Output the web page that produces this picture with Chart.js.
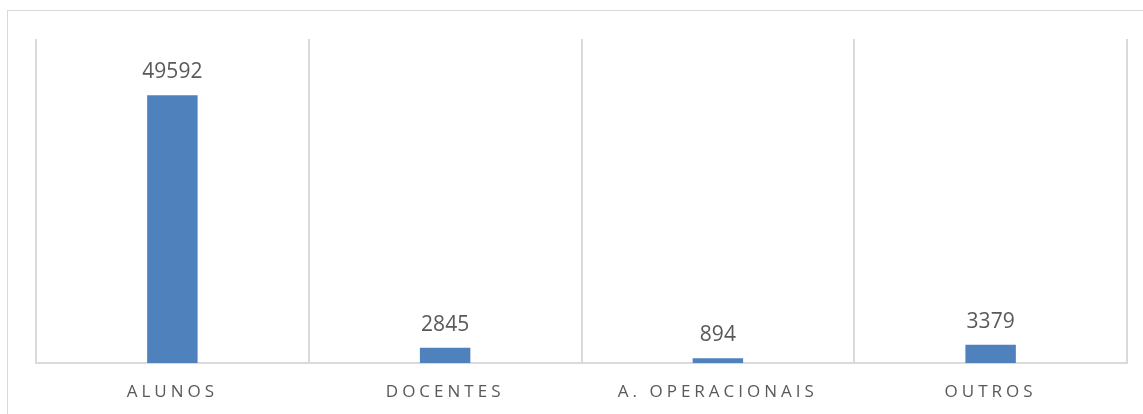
<!DOCTYPE html>
<html>
<head>
<meta charset="utf-8">
<script src="https://cdn.jsdelivr.net/npm/chart.js@4.4.1/dist/chart.umd.min.js"></script>
<style>
  html, body { margin: 0; padding: 0; background: #fff; overflow: hidden; }
  #frame { position: absolute; left: 7px; top: 10px; width: 1160px; height: 430px; border: 1px solid #d9d9d9; box-sizing: border-box; }
  #c { position: absolute; left: 0; top: 0; }
</style>
</head>
<body>
<div id="frame"></div>
<canvas id="c" width="1143" height="414"></canvas>
<script>
// Categories and headcounts
const categories = ['ALUNOS', 'DOCENTES', 'A. OPERACIONAIS', 'OUTROS'];
const counts = [49592, 2845, 894, 3379];
const axisMax = 60000;

const textGray = '#595959';
const gridGray = '#dadada';
const barBlue = '#4F81BD';

// Spaced-out category labels on the x axis
const letterSpacingPlugin = {
  id: 'letterSpacing',
  beforeDraw(chart) { chart.ctx.letterSpacing = '4px'; },
  afterDraw(chart) { chart.ctx.letterSpacing = '0px'; }
};

// Value printed above each bar
const valueLabels = {
  id: 'valueLabels',
  afterDatasetsDraw(chart) {
    const ctx = chart.ctx;
    const meta = chart.getDatasetMeta(0);
    ctx.save();
    ctx.letterSpacing = '0px';
    ctx.font = '21px "Open Sans", sans-serif';
    ctx.fillStyle = textGray;
    ctx.textAlign = 'center';
    ctx.textBaseline = 'alphabetic';
    meta.data.forEach((bar, i) => {
      ctx.fillText(String(chart.data.datasets[0].data[i]), bar.x, bar.y - 17);
    });
    ctx.restore();
  }
};

new Chart(document.getElementById('c'), {
  type: 'bar',
  data: {
    labels: categories,
    datasets: [{
      data: counts,
      backgroundColor: barBlue,
      borderWidth: 0,
      barPercentage: 0.185,
      categoryPercentage: 1
    }]
  },
  options: {
    responsive: false,
    animation: false,
    events: [],
    layout: { padding: { left: 36, right: 16, top: 39, bottom: 0 } },
    plugins: { legend: { display: false }, tooltip: { enabled: false } },
    scales: {
      x: {
        offset: true,
        grid: { display: true, offset: true, color: gridGray, lineWidth: 2, drawTicks: false },
        border: { display: true, color: gridGray, width: 2 },
        ticks: {
          color: textGray,
          font: { family: '"Open Sans", sans-serif', size: 17 },
          padding: 19,
          maxRotation: 0,
          autoSkip: false
        },
        afterFit(scale) { scale.height = 51; }
      },
      y: {
        display: false,
        min: 0,
        max: axisMax,
        grid: { display: false }
      }
    }
  },
  plugins: [letterSpacingPlugin, valueLabels]
});
</script>
</body>
</html>
